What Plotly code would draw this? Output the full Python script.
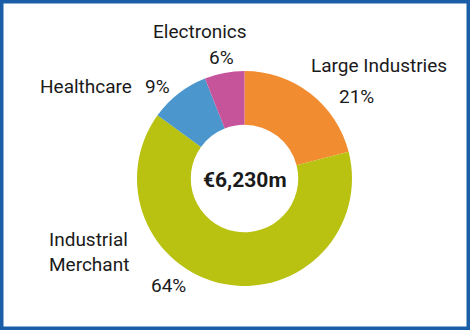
import plotly.graph_objects as go

segments = ["Large Industries", "Industrial Merchant", "Healthcare", "Electronics"]
shares = [21, 64, 9, 6]
colors = ["#F28C30", "#B9C111", "#4A96CD", "#C6549A"]
total_label = "€6,230m"

W, H = 470, 330
cx, cy, r = 244.5, 178.5, 107.5

fig = go.Figure(go.Pie(
    labels=segments, values=shares, sort=False, direction="clockwise", rotation=0,
    hole=0.5, textinfo="none", hoverinfo="label+percent",
    marker=dict(colors=colors, line=dict(width=0)),
    domain=dict(x=[(cx - r) / W, (cx + r) / W], y=[1 - (cy + r) / H, 1 - (cy - r) / H]),
    showlegend=False,
))

def ann(text, x, y, size=19, bold=False, align="center", xanchor="center"):
    fig.add_annotation(
        text=f"<b>{text}</b>" if bold else text, x=x / W, y=1 - y / H, xref="paper", yref="paper",
        showarrow=False, xanchor=xanchor, yanchor="middle", align=align,
        font=dict(family="Roboto", size=size, color="#1a1a1a"),
    )

ann(segments[3], 200, 32)
ann(f"{shares[3]}%", 221, 57)
ann(segments[0], 379, 66)
ann(f"{shares[0]}%", 356, 96)
ann(segments[2], 85.5, 86)
ann(f"{shares[2]}%", 157, 86)
ann("Industrial<br>Merchant", 47, 252, xanchor="left", align="left")
ann(f"{shares[1]}%", 168, 285)
ann(total_label, cx, 180, size=21, bold=True)

fig.add_shape(type="rect", xref="paper", yref="paper", x0=0, y0=0, x1=1, y1=1,
              line=dict(color="#1B5EA8", width=7))

fig.update_layout(width=W, height=H, margin=dict(l=0, r=0, t=0, b=0),
                  paper_bgcolor="white", plot_bgcolor="white")
fig.write_html("out.html")
